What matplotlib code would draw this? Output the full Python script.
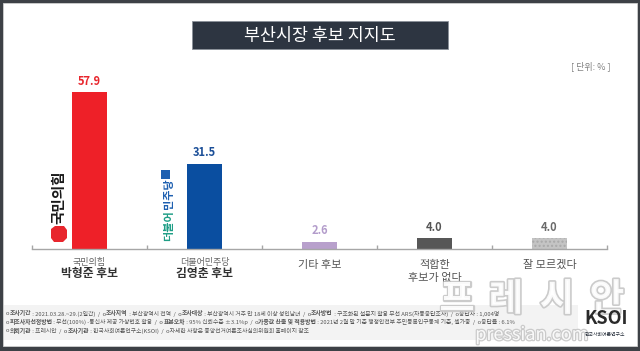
import matplotlib
matplotlib.use("Agg")
import matplotlib.pyplot as plt
import matplotlib.patheffects as pe
from matplotlib.patches import Rectangle, Polygon

plt.rcParams['font.family'] = ['Noto Sans CJK KR', 'DejaVu Sans']

W, H = 640, 351

# data
parties = ["국민의힘", "더불어민주당", "", "", ""]
candidates = ["박형준 후보", "김영춘 후보", "기타 후보", "적합한\n후보가 없다", "잘 모르겠다"]
values = [57.9, 31.5, 2.6, 4.0, 4.0]
value_labels = ["57.9", "31.5", "2.6", "4.0", "4.0"]
bar_colors = ["#ee2028", "#0a4ea0", "#b8a0cc", "#575757", "#c4c4c4"]
label_colors = ["#e8262d", "#1b4f98", "#b39ccb", "#555555", "#6a6a6a"]

title = "부산시장 후보 지지도"
unit = "[ 단위: % ]"

footer = [
    [("o", False), ("조사기간", True), (" : 2021.03.28.~29.(2일간)  /  o", False), ("조사지역", True),
     (" : 부산광역시 전역  /  o", False), ("조사대상", True), (" : 부산광역시 거주 만 18세 이상 성인남녀  /  o", False),
     ("조사방법", True), (" : 구조화된 설문지 활용 무선 ARS(자동응답조사)  /  o응답자 : 1,004명", False)],
    [("o", False), ("피조사자선정방법", True), (" : 무선(100%) -통신사 제공 가상번호 활용  /  o", False), ("표본오차", True),
     (" : 95% 신뢰수준 ±3.1%p  /  o", False), ("가중값 산출 및 적용방법", True),
     (" : 2021년 2월 말 기준 행정안전부 주민등록인구통계 기준, 셀가중  /  o응답률 : 6.1%", False)],
    [("o", False), ("의뢰기관", True), (" : 프레시안  /  o", False), ("조사기관", True),
     (" : 한국사회여론연구소(KSOI)  /  o자세한 사항은 중앙선거여론조사심의위원회 홈페이지 참조", False)],
]


def fx(x):
    return x / W


def fy(y):
    return 1 - y / H


fig = plt.figure(figsize=(W / 100, H / 100), dpi=100, facecolor="#3d4146")

# slide background (drawn below the axes)
fig.patches.append(Rectangle((fx(3), fy(346)), fx(634), 343 / H, transform=fig.transFigure,
                             facecolor="white", edgecolor="#d0d0d0", lw=0.6, zorder=-2))
fig.patches.append(Rectangle((fx(4), fy(340)), fx(574), 35 / H, transform=fig.transFigure,
                             facecolor="#f3f3f3", edgecolor="none", zorder=-1))

# title box
fig.patches.append(Rectangle((fx(192), fy(49)), fx(256), 28 / H, transform=fig.transFigure,
                             facecolor="#2d3541", edgecolor="#8a9099", lw=0.6, zorder=1))
fig.text(fx(320), fy(35.5), title, color="white", fontsize=12.5, ha="center", va="center")
fig.text(fx(611), fy(66), unit, color="#808080", fontsize=6.5, ha="right", va="center")

# main axes
unit_px = (249 - 92) / 57.9
ax = fig.add_axes([fx(32), fy(249), fx(575), 168 / H])
ax.set_facecolor("none")
x = list(range(len(values)))
bars = ax.bar(x, values, width=0.3, color=bar_colors, zorder=2)
bars[4].set_hatch("....")
bars[4].set_edgecolor("#a9a9a9")
bars[4].set_linewidth(0)
ax.set_xlim(-0.5, 4.5)
ax.set_ylim(0, 168 / unit_px)

for xi, v, lab, c in zip(x, values, value_labels, label_colors):
    ax.annotate(lab, (xi, v), xytext=(0, 11), textcoords="offset pixels", ha="center", va="center",
                fontsize=8, fontweight="bold", color=c)

for xi, p, cand in zip(x, parties, candidates):
    if p:
        ax.annotate(p, (xi, 0), xytext=(0, -13), textcoords="offset pixels", ha="center", va="center",
                    fontsize=6.5, color="#666666", annotation_clip=False)
        ax.annotate(cand, (xi, 0), xytext=(0, -25), textcoords="offset pixels", ha="center", va="center",
                    fontsize=8.5, fontweight="bold", color="#333333", annotation_clip=False)
    else:
        ax.annotate(cand, (xi, 0), xytext=(0, -11), textcoords="offset pixels", ha="center", va="top",
                    fontsize=8, color="#555555", linespacing=1.35, annotation_clip=False)

for s in ["top", "left", "right"]:
    ax.spines[s].set_visible(False)
ax.spines["bottom"].set_color("#a6a6a6")
ax.spines["bottom"].set_linewidth(1)
ax.set_yticks([])
ax.set_xticks([i - 0.5 for i in range(len(values) + 1)])
ax.set_xticklabels([])
ax.tick_params(axis="x", direction="in", length=3, color="#a6a6a6", width=1)

# party logos
fig.text(fx(58.5), fy(197), "국민의힘", rotation=90, ha="center", va="center", fontsize=10.5,
         fontweight="black", color="#1a1a1a")
logo = [(51, 229), (55, 226), (64, 226), (67, 230), (67, 238), (63, 242), (54, 242), (51, 238)]
fig.patches.append(Polygon([(fx(a), fy(b)) for a, b in logo], closed=True, transform=fig.transFigure,
                           facecolor="#e8262d", edgecolor="none"))
fig.text(fx(168.5), fy(226), "더불어", rotation=90, ha="center", va="center", fontsize=8,
         fontweight="black", color="#1f9e86")
fig.text(fx(168.5), fy(194), "민주당", rotation=90, ha="center", va="center", fontsize=8,
         fontweight="black", color="#1d5fb0")
fig.patches.append(Rectangle((fx(161), fy(179)), fx(9), 9 / H, transform=fig.transFigure,
                             facecolor="#1d5fb0", edgecolor="none"))

# footer
fig.canvas.draw()
renderer = fig.canvas.get_renderer()
for li, segs in enumerate(footer):
    cx = 6
    yy = fy(313.5 + li * 8.5)
    for txt, bold in segs:
        t = fig.text(fx(cx), yy, txt, fontsize=4.2, color="#555555", ha="left", va="center",
                     fontweight="bold" if bold else "normal")
        cx += t.get_window_extent(renderer).width

# watermark
halo = [pe.withStroke(linewidth=2.4, foreground="#c6c6c6")]
for ch, cx in zip("프레시안", [457, 506, 557, 607]):
    fig.text(fx(cx), fy(299), ch, fontsize=27, fontweight="black", color="white", alpha=0.9,
             ha="center", va="center", path_effects=halo)
fig.text(fx(532), fy(335), "pressian.com", fontsize=13, color="white", alpha=0.9,
         ha="center", va="center", path_effects=[pe.withStroke(linewidth=1.8, foreground="#c6c6c6")])

# KSOI logo
fig.text(fx(606), fy(318), "KSOI", fontsize=13, fontweight="bold", color="#2a2a2a", ha="center", va="center")
fig.text(fx(605), fy(334), "한국사회여론연구소", fontsize=3.5, color="#2d3541", ha="center", va="center")

fig.savefig("out.png", dpi=100, facecolor=fig.get_facecolor())
